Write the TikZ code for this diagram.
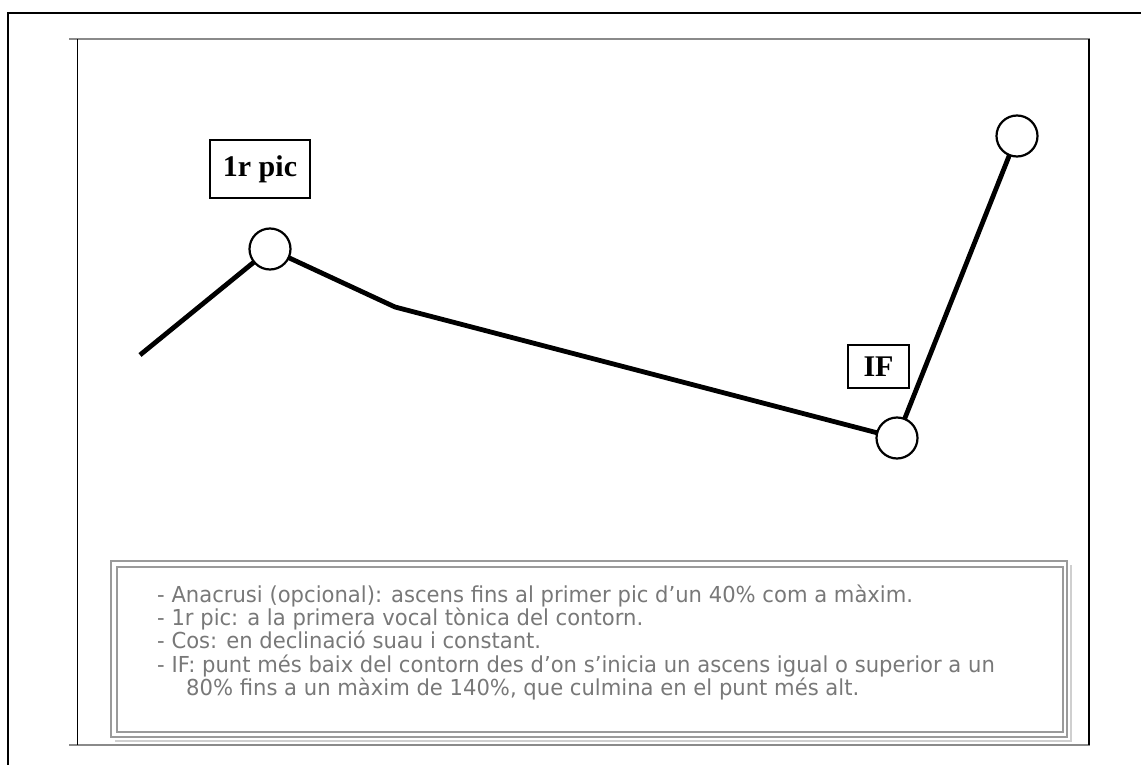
\documentclass[tikz,border=0pt]{standalone}
\usepackage{fontspec}
\setmainfont{Liberation Serif}
\newfontfamily\descfont[FakeStretch=0.96]{DejaVu Sans}
\definecolor{txtgray}{HTML}{787878}
\definecolor{boxgray}{HTML}{9A9A9A}
\definecolor{shadowgray}{HTML}{CFCFCF}
\definecolor{framegray}{HTML}{8A8A8A}
\tikzset{
  pt/.style={circle, draw=black, line width=2.2pt, fill=white, minimum size=41pt, inner sep=0pt},
  contour/.style={line width=4.8pt, line join=miter},
  label/.style={draw=black, line width=1.4pt, font=\fontsize{30}{34}\selectfont\bfseries, inner sep=0pt},
  desc/.style={anchor=base west, text=txtgray, inner sep=0pt, font=\descfont\fontsize{22}{24}\selectfont},
}
\begin{document}
\begin{tikzpicture}[x=1pt,y=-1pt]
\useasboundingbox (0,0) rectangle (1141,765);
% outer frame
\draw[line width=1.6pt] (8,765) -- (8,13) -- (1141,13);
% inner frame
\draw[framegray, line width=2pt] (69,39) -- (1090,39);
\draw[framegray, line width=2pt] (69,745) -- (1090,745);
\draw[black, line width=1pt] (77,39) -- (77,745);
\draw[black, line width=1.4pt] (1089,39) -- (1089,745);
% contour
\coordinate (s) at (140,355);
\coordinate (c1) at (270,249);
\coordinate (m) at (395,307);
\coordinate (c2) at (897,438);
\coordinate (c3) at (1017,136);
\draw[contour] (s) -- (c1) -- (m) -- (c2) -- (c3);
\node[pt] (p1) at (c1) {};
\node[pt] (p2) at (c2) {};
\node[pt] (p3) at (c3) {};
% labels
\node[label, minimum width=100pt, minimum height=58pt] (l1) at (260,169) {1r pic};
\node[label, minimum width=61pt, minimum height=43pt] (l2) at (878.5,366.5) {IF};
% description box
\draw[shadowgray, line width=1.5pt] (115,741) -- (1071,741) -- (1071,565);
\draw[boxgray, line width=2.4pt] (111,561) rectangle (1067,737);
\draw[boxgray, line width=2pt] (117,567) rectangle (1063,732);
\node[desc] (t1) at (157,602) {- Anacrusi (opcional): ascens fins al primer pic d’un 40\% com a màxim.};
\node[desc] (t2) at (157,625.3) {- 1r pic: a la primera vocal tònica del contorn.};
\node[desc] (t3) at (157,648.6) {- Cos: en declinació suau i constant.};
\node[desc] (t4) at (157,672) {- IF: punt més baix del contorn des d’on s’inicia un ascens igual o superior a un};
\node[desc] (t5) at (186,695.3) {80\% fins a un màxim de 140\%, que culmina en el punt més alt.};
\end{tikzpicture}
\end{document}
